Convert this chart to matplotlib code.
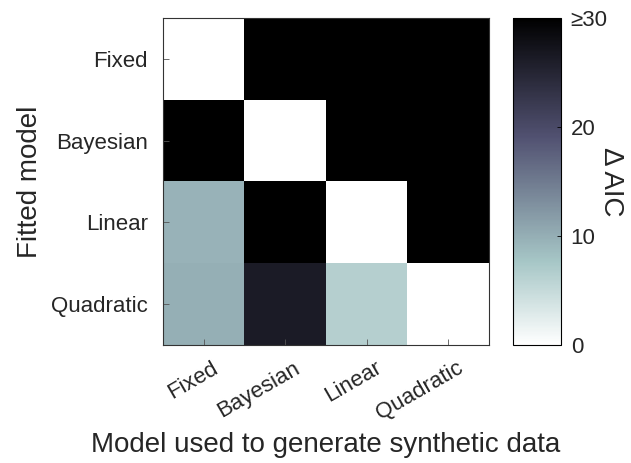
import numpy as np
import matplotlib.pyplot as plt
from matplotlib.transforms import ScaledTranslation

plt.rcParams['font.family'] = ['Liberation Sans', 'DejaVu Sans']
plt.rcParams['text.color'] = '#262626'
plt.rcParams['axes.labelcolor'] = '#262626'
plt.rcParams['xtick.labelcolor'] = '#262626'
plt.rcParams['ytick.labelcolor'] = '#262626'

models = ['Fixed', 'Bayesian', 'Linear', 'Quadratic']
# rows: fitted model, columns: generating model (values capped at 30)
delta_aic = np.array([
    [0.0, 30.0, 30.0, 30.0],
    [30.0, 0.0, 30.0, 30.0],
    [9.6, 30.0, 0.0, 30.0],
    [9.9, 26.2, 6.4, 0.0],
])
cbar_ticks = [0, 10, 20, 30]
cbar_labels = ['0', '10', '20', '≥30']

fig = plt.figure(figsize=(6.31, 4.63), dpi=100)
ax = fig.add_axes([163 / 631, 1 - 345 / 463, 326 / 631, 327 / 463])
cax = fig.add_axes([513 / 631, 1 - 345 / 463, 48 / 631, 327 / 463])

im = ax.imshow(delta_aic, cmap='bone_r', vmin=0, vmax=30, aspect='auto',
               interpolation='nearest')

ax.set_xticks(range(len(models)))
ax.set_yticks(range(len(models)))
ax.set_xticklabels(models, rotation=30, ha='right', va='top',
                   rotation_mode='anchor', fontsize=16)
ax.set_yticklabels(models, fontsize=16)
ax.tick_params(direction='in', length=4, width=0.6, color='#555555')
ax.tick_params(axis='y', pad=11)
ax.tick_params(axis='x', pad=9)
# nudge the slanted labels to the right of their ticks
shift = ScaledTranslation(8 / 100, 0, fig.dpi_scale_trans)
for lbl in ax.get_xticklabels():
    lbl.set_transform(lbl.get_transform() + shift)
for s in ax.spines.values():
    s.set_linewidth(0.8)
    s.set_color('#333333')
ax.set_xlabel('Model used to generate synthetic data', fontsize=20, labelpad=6)
ax.set_ylabel('Fitted model', fontsize=20, labelpad=6)

cb = fig.colorbar(im, cax=cax, ticks=cbar_ticks)
cb.ax.set_yticklabels(cbar_labels, fontsize=16)
cb.ax.tick_params(direction='in', length=3, width=0.6, pad=7)
cb.outline.set_linewidth(0.8)
cb.set_label('Δ AIC', rotation=-90, fontsize=20, labelpad=12)

fig.savefig('out.png', dpi=100)
